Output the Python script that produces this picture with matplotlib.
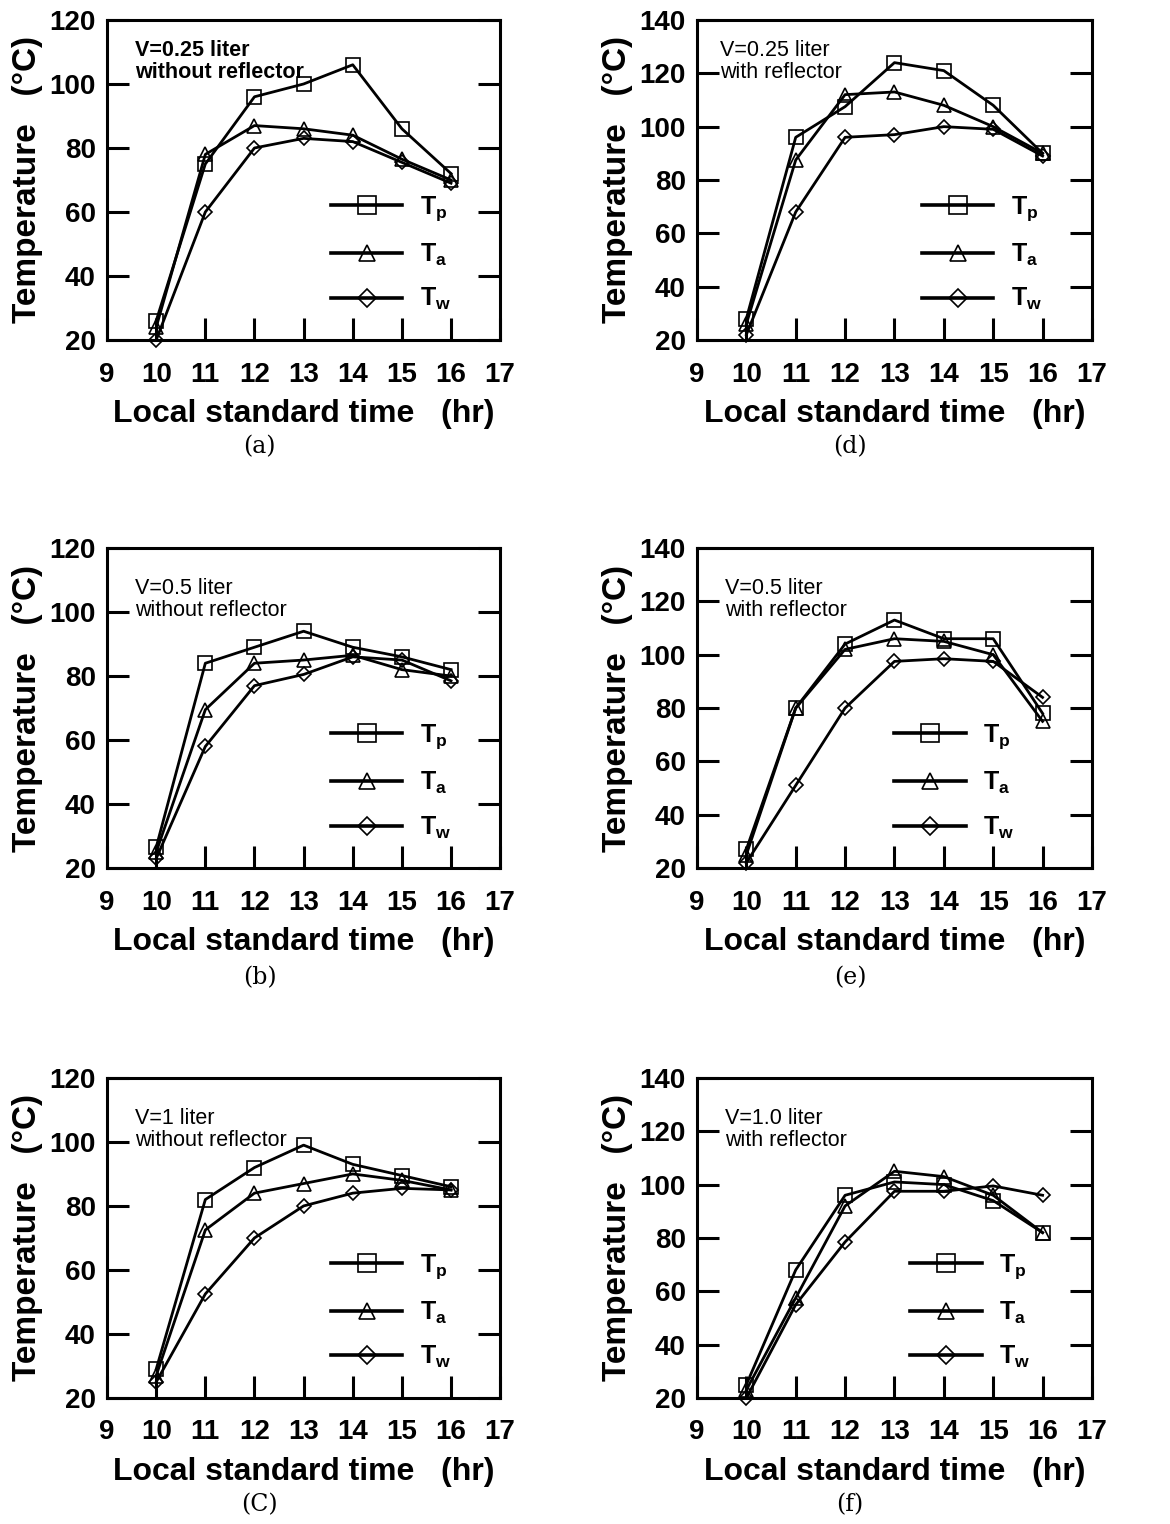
import matplotlib
matplotlib.use("Agg")
import matplotlib.pyplot as plt
from matplotlib.ticker import MultipleLocator

plt.rcParams["font.family"] = ["Liberation Sans", "DejaVu Sans"]
plt.rcParams["mathtext.fontset"] = "custom"
plt.rcParams["mathtext.rm"] = "Liberation Sans:bold"
plt.rcParams["mathtext.it"] = "Liberation Sans:bold"
plt.rcParams["mathtext.bf"] = "Liberation Sans:bold"

hours = [10, 11, 12, 13, 14, 15, 16]

# (a) V=0.25 liter, without reflector
tp_a = [26, 75, 96, 100, 106, 86, 72]
ta_a = [24, 78, 87, 86, 84, 76.5, 70]
tw_a = [20, 60, 80, 83, 82, 75.5, 69]

# (b) V=0.5 liter, without reflector
tp_b = [26.5, 84, 89, 94, 89, 86, 82]
ta_b = [25, 69.5, 84, 85, 86.5, 82, 80]
tw_b = [23, 58, 77, 80.5, 86, 85, 78.5]

# (c) V=1 liter, without reflector
tp_c = [29, 82, 92, 99, 93, 89.5, 86]
ta_c = [27, 72.5, 84, 87, 90, 88, 85]
tw_c = [25, 52.5, 70, 80, 84, 85.5, 85]

# (d) V=0.25 liter, with reflector
tp_d = [28, 96, 107.5, 124, 121, 108, 90]
ta_d = [26, 87.5, 112, 113, 108, 100, 90]
tw_d = [22, 68, 96, 97, 100, 99, 89]

# (e) V=0.5 liter, with reflector
tp_e = [27, 80, 104, 113, 106, 106, 78]
ta_e = [25, 80, 102, 106, 105, 100, 75]
tw_e = [22, 51, 80, 97.5, 98.5, 97.5, 84]

# (f) V=1.0 liter, with reflector
tp_f = [25, 68, 96, 101, 100, 94, 82]
ta_f = [23, 57.5, 92, 105, 103, 96, 82]
tw_f = [20, 55, 78.5, 97.5, 97.5, 99.5, 96]

panels = [
    # series, note, note bold, ymax, subplot label, axes rect, legend x
    ((tp_a, ta_a, tw_a), "V=0.25 liter\nwithout reflector", True, 120, "(a)",
     [0.0915, 0.7769, 0.336, 0.210], 0.57),
    ((tp_b, ta_b, tw_b), "V=0.5 liter\nwithout reflector", False, 120, "(b)",
     [0.0915, 0.4304, 0.336, 0.210], 0.57),
    ((tp_c, ta_c, tw_c), "V=1 liter\nwithout reflector", False, 120, "(C)",
     [0.0915, 0.0827, 0.336, 0.210], 0.57),
    ((tp_d, ta_d, tw_d), "V=0.25 liter\nwith reflector", False, 140, "(d)",
     [0.5957, 0.7769, 0.3376, 0.210], 0.57),
    ((tp_e, ta_e, tw_e), "V=0.5 liter\nwith reflector", False, 140, "(e)",
     [0.5957, 0.4304, 0.3376, 0.210], 0.50),
    ((tp_f, ta_f, tw_f), "V=1.0 liter\nwith reflector", False, 140, "(f)",
     [0.5957, 0.0827, 0.3376, 0.210], 0.54),
]
note_y = [0.9375, 0.906, 0.906, 0.9375, 0.906, 0.906]
label_pos = [(0.222, 0.7067), (0.222, 0.3583), (0.222, 0.0125),
             (0.7265, 0.7067), (0.7265, 0.3583), (0.7265, 0.0125)]

markers = [("s", 10.5), ("^", 10), ("D", 7.5)]
names = [r"$\mathrm{T_p}$", r"$\mathrm{T_a}$", r"$\mathrm{T_w}$"]

fig = plt.figure(figsize=(11.7, 15.24), dpi=100)

for i, (series, note, bold, ymax, plabel, rect, legx) in enumerate(panels):
    ax = fig.add_axes(rect)
    handles = []
    for vals, (m, ms), name in zip(series, markers, names):
        h, = ax.plot(hours, vals, color="black", lw=2.0, marker=m, ms=ms,
                     mfc="none", mec="black", mew=1.2, label=name,
                     clip_on=False)
        handles.append(h)
    ax.set_xlim(9, 17)
    ax.set_ylim(20, ymax)
    ax.xaxis.set_major_locator(MultipleLocator(1))
    ax.yaxis.set_major_locator(MultipleLocator(20))
    for s in ax.spines.values():
        s.set_linewidth(2.2)
    ax.tick_params(axis="x", direction="in", length=16, width=2.2,
                   labelsize=20, pad=15.5, top=False)
    ax.tick_params(axis="y", direction="in", length=16, width=2.2,
                   labelsize=20, pad=8, right=True)
    for t in ax.get_xticklabels() + ax.get_yticklabels():
        t.set_fontweight("bold")
    ax.set_xlabel("Local standard time   (hr)", fontsize=23,
                  fontweight="bold", labelpad=8)
    ax.set_ylabel("Temperature   (°C)", fontsize=24, fontweight="bold",
                  labelpad=5)
    ax.text(0.071 if i != 3 else 0.058, note_y[i], note, transform=ax.transAxes,
            fontsize=15.5, fontweight="bold" if bold else "normal",
            va="top", ha="left", linespacing=1.05)
    leg = ax.legend(handles=handles, loc="upper left",
                    bbox_to_anchor=(legx, 0.455), frameon=False,
                    fontsize=18, handlelength=2.85, handletextpad=0.7,
                    labelspacing=0.74, borderpad=0, borderaxespad=0,
                    markerscale=1.2)
    for ln in leg.get_lines():
        ln.set_linewidth(2.6)
    fig.text(label_pos[i][0], label_pos[i][1], plabel, fontsize=17,
             family="DejaVu Serif", ha="center", va="center")

fig.savefig("out.png", dpi=100)
